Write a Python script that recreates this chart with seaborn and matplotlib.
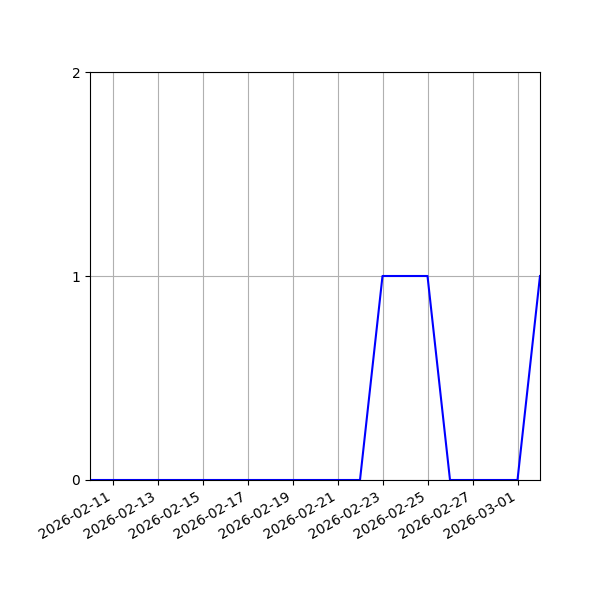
import pandas as pd
import matplotlib
matplotlib.use("Agg")
import matplotlib.pyplot as plt
import matplotlib.dates as mdates
import seaborn as sns

# daily counts
dates = pd.date_range("2026-02-10", "2026-03-02", freq="D")
counts = [0, 0, 0, 0, 0, 0, 0, 0, 0, 0, 0, 0, 0,
          1, 1, 1,
          0, 0, 0, 0,
          1]

df = pd.DataFrame({"date": dates, "count": counts})

fig, ax = plt.subplots(figsize=(6, 6), dpi=100)
sns.lineplot(data=df, x="date", y="count", color="blue", ax=ax)
ax.set_xlim(dates[0], dates[-1])
ax.set_ylim(0, 2)
ax.set_yticks([0, 1, 2])
ax.xaxis.set_major_locator(mdates.DayLocator(bymonthday=[1, 11, 13, 15, 17, 19, 21, 23, 25, 27]))
ax.xaxis.set_major_formatter(mdates.DateFormatter("%Y-%m-%d"))
ax.set_xlabel("")
ax.set_ylabel("")
ax.grid(True)
fig.autofmt_xdate()
fig.subplots_adjust(left=0.15, right=0.9, top=0.88, bottom=0.2)
fig.savefig("out.png")
